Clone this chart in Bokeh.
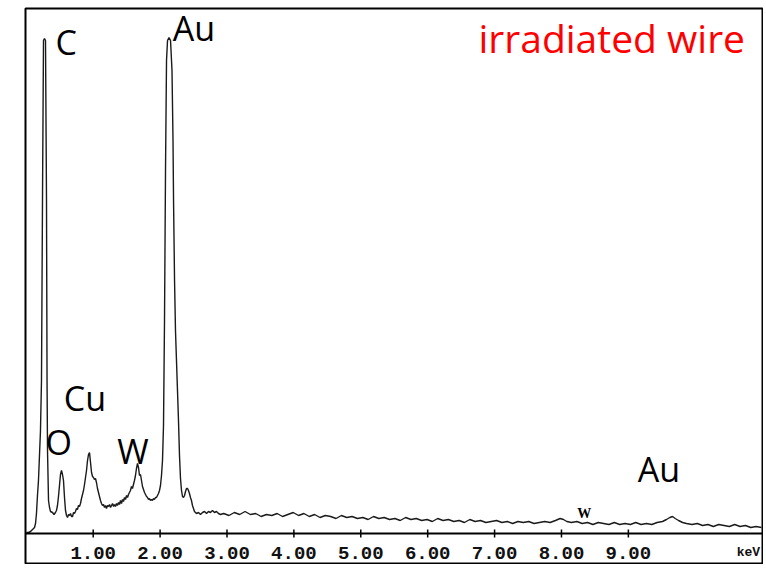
from bokeh.plotting import figure
from bokeh.models import Range1d
from bokeh.core.properties import value
from bokeh.embed import file_html
from bokeh.resources import INLINE

# ---- spectrum (energy in keV, counts in arbitrary units) ----
energy_kev = [
    0.003, 0.033, 0.063, 0.093, 0.123, 0.138, 0.152, 0.167, 0.182, 0.197,
    0.212, 0.227, 0.242, 0.257, 0.272, 0.287, 0.302, 0.310, 0.317, 0.332,
    0.347, 0.362, 0.392, 0.414, 0.436, 0.451, 0.466, 0.481, 0.496, 0.511,
    0.526, 0.541, 0.556, 0.571, 0.586, 0.601, 0.616, 0.631, 0.646, 0.661,
    0.676, 0.691, 0.706, 0.720, 0.735, 0.750, 0.765, 0.780, 0.795, 0.810,
    0.825, 0.840, 0.855, 0.870, 0.885, 0.900, 0.915, 0.930, 0.945, 0.960,
    0.975, 0.990, 1.004, 1.019, 1.034, 1.049, 1.064, 1.079, 1.094, 1.109,
    1.124, 1.139, 1.154, 1.169, 1.184, 1.199, 1.214, 1.229, 1.244, 1.259,
    1.274, 1.289, 1.304, 1.318, 1.333, 1.348, 1.363, 1.378, 1.393, 1.408,
    1.423, 1.438, 1.453, 1.468, 1.483, 1.498, 1.513, 1.527, 1.542, 1.557,
    1.572, 1.587, 1.602, 1.617, 1.632, 1.647, 1.662, 1.677, 1.692, 1.707,
    1.722, 1.737, 1.752, 1.767, 1.782, 1.797, 1.812, 1.827, 1.841, 1.856,
    1.871, 1.886, 1.901, 1.916, 1.931, 1.946, 1.961, 1.976, 1.991, 2.006,
    2.021, 2.036, 2.051, 2.066, 2.081, 2.096, 2.111, 2.133, 2.156, 2.178,
    2.193, 2.201, 2.216, 2.230, 2.245, 2.260, 2.275, 2.290, 2.305, 2.320,
    2.335, 2.350, 2.365, 2.380, 2.395, 2.410, 2.424, 2.439, 2.454, 2.469,
    2.484, 2.499, 2.514, 2.544, 2.574, 2.604, 2.634, 2.664, 2.694, 2.723,
    2.753, 2.783, 2.813, 2.843, 2.873, 2.903,
    2.95, 3.03, 3.11, 3.19, 3.27, 3.35, 3.43, 3.51, 3.59, 3.67,
    3.75, 3.83, 3.91, 3.99, 4.07, 4.15, 4.23, 4.31, 4.39, 4.47,
    4.55, 4.63, 4.71, 4.79, 4.87, 4.95, 5.03, 5.11, 5.19, 5.27,
    5.35, 5.43, 5.51, 5.59, 5.67, 5.75, 5.83, 5.91, 5.99, 6.07,
    6.15, 6.23, 6.31, 6.39, 6.47, 6.55, 6.63, 6.71, 6.79, 6.87,
    6.95, 7.03, 7.11, 7.19, 7.27, 7.35, 7.43, 7.51, 7.59, 7.67,
    7.75, 7.83, 7.91, 7.98, 8.03, 8.08, 8.15, 8.23, 8.31, 8.39,
    8.47, 8.55, 8.63, 8.71, 8.79, 8.87, 8.95, 9.03, 9.11, 9.19,
    9.27, 9.35, 9.43, 9.51, 9.57, 9.62, 9.66, 9.70, 9.75, 9.81,
    9.87, 9.95, 10.03, 10.11, 10.19, 10.27, 10.35, 10.43, 10.51, 10.59,
    10.67, 10.75, 10.83, 10.91, 10.99,
]
counts = [
    1, 1, 2, 4, 6, 10, 20, 38, 53, 78,
    103, 153, 333, 493, 495, 493, 333, 153, 83, 33,
    26, 22, 21, 19, 21, 23, 28, 37, 48, 59,
    63, 59, 53, 36, 23, 18, 16, 19, 18, 20,
    17, 17, 21, 20, 22, 25, 24, 28, 27, 30,
    35, 39, 43, 49, 56, 63, 73, 79, 81, 71,
    61, 57, 56, 54, 55, 51, 45, 41, 37, 33,
    30, 28, 29, 26, 28, 25, 28, 27, 29, 26,
    28, 30, 27, 29, 27, 30, 28, 31, 29, 33,
    30, 34, 32, 36, 34, 38, 36, 39, 41, 43,
    47, 45, 49, 53, 58, 65, 70, 66, 58, 59,
    53, 47, 44, 41, 39, 37, 36, 34, 35, 33,
    34, 33, 35, 34, 36, 36, 38, 40, 43, 48,
    58, 73, 108, 213, 363, 473, 493, 496, 493, 463,
    393, 333, 253, 203, 173, 143, 113, 78, 55, 43,
    37, 36, 38, 42, 45, 45, 43, 40, 36, 33,
    28, 25, 22, 20, 21, 19, 21, 22, 20, 22,
    21, 23, 21, 22, 20, 19,
    20, 18, 21, 19, 22, 19, 20, 17, 19, 18,
    20, 17, 19, 21, 18, 20, 17, 19, 16, 18,
    17, 15, 18, 16, 17, 15, 16, 14, 17, 15,
    16, 14, 15, 13, 16, 14, 15, 13, 14, 12,
    15, 13, 14, 12, 13, 11, 14, 12, 13, 11,
    12, 13, 11, 12, 10, 12, 11, 12, 10, 11,
    12, 11, 13, 15, 14, 12, 11, 12, 10, 11,
    9, 11, 10, 9, 11, 9, 10, 9, 11, 9,
    10, 9, 11, 12, 14, 16, 17, 15, 13, 11,
    10, 9, 10, 8, 9, 7, 9, 8, 7, 9,
    7, 8, 6, 7, 6,
]

# ---- axis ticks ----
tick_values = [1, 2, 3, 4, 5, 6, 7, 8, 9]
tick_labels = ["1.00", "2.00", "3.00", "4.00", "5.00", "6.00", "7.00", "8.00", "9.00"]
axis_unit = "keV"

# ---- element annotations ----
peak_names = ["C", "Au", "Cu", "O", "W", "Au"]
peak_label_x = [0.437, 2.19, 0.56, 0.287, 1.36, 9.14]
peak_label_y = [492, 506, 136, 92, 83, 65]
title_text = "irradiated wire"
small_mark = "W"

p = figure(width=763, height=564,
           x_range=Range1d(-0.012, 11.02), y_range=Range1d(-31, 525),
           x_axis_type=None, y_axis_type=None,
           output_backend="svg", toolbar_location=None,
           min_border_left=25, min_border_right=0,
           min_border_top=8, min_border_bottom=0)
p.outline_line_color = "black"
p.outline_line_width = 2
p.background_fill_color = "white"
p.border_fill_color = "white"

# spectrum
p.line(energy_kev, counts, line_color="#1a1a1a", line_width=1.4)

# scanned-style energy axis inside the frame
p.segment(x0=[-0.012], y0=[0], x1=[11.02], y1=[0], line_color="black", line_width=1.8)
p.segment(x0=tick_values, y0=[-4] * len(tick_values), x1=tick_values, y1=[4] * len(tick_values),
          line_color="black", line_width=1.5)
p.text(x=tick_values, y=[-19] * len(tick_values), text=tick_labels,
       text_font=value("Liberation Mono"), text_font_style="bold",
       text_font_size=value("19px"), text_align="center", text_baseline="middle",
       text_color="#111111")
p.text(x=[10.97], y=[-19], text=[axis_unit],
       text_font=value("Liberation Mono"), text_font_style="bold",
       text_font_size=value("13px"), text_align="right", text_baseline="middle",
       text_color="#111111")

# element labels
p.text(x=peak_label_x, y=peak_label_y, text=peak_names,
       text_font=value("Open Sans"), text_font_size=value("34px"),
       text_align="left", text_baseline="alphabetic", text_color="black")
p.text(x=[8.34], y=[20], text=[small_mark],
       text_font=value("Liberation Serif"), text_font_style="bold",
       text_font_size=value("14px"), text_align="center", text_baseline="middle",
       text_color="black")

# title
p.text(x=[6.76], y=[496], text=[title_text],
       text_font=value("Open Sans"), text_font_size=value("39px"),
       text_align="left", text_baseline="alphabetic", text_color="#ff0000")

open("out.html", "w").write(file_html(p, INLINE))
